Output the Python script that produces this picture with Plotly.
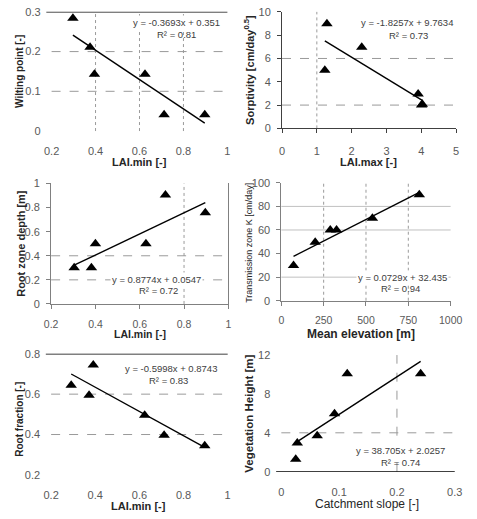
import plotly.graph_objects as go

# ---------------- data ----------------
# Panel a: Wilting point vs LAI.min
wp_lai = [0.297, 0.375, 0.395, 0.625, 0.712, 0.897]
wp_val = [0.284, 0.211, 0.143, 0.143, 0.041, 0.041]
wp_fit = (-0.3693, 0.351)
wp_eq = "y = -0.3693x + 0.351"
wp_r2 = "R² = 0.81"

# Panel b: Sorptivity vs LAI.max
so_lai = [1.29, 1.23, 2.29, 3.91, 4.03, 4.01]
so_val = [8.97, 5.0, 6.96, 2.96, 2.07, 2.0]
so_fit = (-1.8257, 9.7634)
so_eq = "y = -1.8257x + 9.7634"
so_r2 = "R² = 0.73"

# Panel c: Root zone depth vs LAI.min
rz_lai = [0.304, 0.382, 0.40, 0.628, 0.716, 0.896]
rz_val = [0.30, 0.30, 0.50, 0.50, 0.905, 0.757]
rz_fit = (0.8774, 0.0547)
rz_eq = "y = 0.8774x + 0.0547"
rz_r2 = "R² = 0.72"

# Panel d: Transmission zone K vs Mean elevation
tk_elev = [72, 200, 289, 326, 538, 815]
tk_val = [29.8, 49.7, 60, 60, 69.9, 89.8]
tk_fit = (0.0729, 32.435)
tk_eq = "y = 0.0729x + 32.435"
tk_r2 = "R² = 0.94"

# Panel e: Root fraction vs LAI.min
rf_lai = [0.291, 0.372, 0.391, 0.624, 0.712, 0.896]
rf_val = [0.644, 0.595, 0.744, 0.495, 0.397, 0.345]
rf_fit = (-0.5998, 0.8743)
rf_eq = "y = -0.5998x + 0.8743"
rf_r2 = "R² = 0.83"

# Panel f: Vegetation height vs Catchment slope
vh_slope = [0.0249, 0.0276, 0.062, 0.092, 0.114, 0.241]
vh_val = [1.28, 2.95, 3.69, 5.97, 10.07, 10.07]
vh_fit = (38.705, 2.0257)
vh_eq = "y = 38.705x + 2.0257"
vh_r2 = "R² = 0.74"

# tick labels
lai_ticks = ["0.2", "0.4", "0.6", "0.8", "1"]
wp_ticks = ["0", "0.1", "0.2", "0.3"]
laimax_ticks = ["0", "1", "2", "3", "4", "5"]
so_ticks = ["0", "2", "4", "6", "8", "10"]
rz_ticks = ["0", "0.2", "0.4", "0.6", "0.8", "1"]
elev_ticks = ["0", "250", "500", "750", "1000"]
tk_ticks = ["0", "20", "40", "60", "80", "100"]
rf_ticks = ["0.2", "0.4", "0.6", "0.8"]
slope_ticks = ["0", "0.1", "0.2", "0.3"]
vh_ticks = ["0", "4", "8", "12"]

# ---------------- layout helpers ----------------
W, H = 477, 519
FONT = "Liberation Sans, Arial, sans-serif"
TICKC = "#595959"
GRID = "#9a9a9a"


def fx(p):
    return p / W


def fy(p):
    return 1 - p / H


panels = [
    dict(x=wp_lai, y=wp_val, fit=wp_fit, eq=wp_eq, r2=wp_r2,
         xt=lai_ticks, yt=wp_ticks, box=(45.5, 229, 6, 128),
         xtitle="<b>LAI.min [-]</b>", ytitle="<b>Wilting point [-]</b>",
         xtpos=(137, 160), ytpos=(12, 67), tsize=(11, 10),
         eqpos=(176, 17, 176, 29), xfs=11, xso=12,
         vgrid=[0.4, 0.6, 0.8], hgrid=[0.1, 0.2], hdash="dash", vdash="dot",
         solid_h=[0.3], axlines=False),
    dict(x=so_lai, y=so_val, fit=so_fit, eq=so_eq, r2=so_r2,
         xt=laimax_ticks, yt=so_ticks, box=(286, 467.7, 6, 125.3),
         xtitle="<b>LAI.max [-]</b>", ytitle="<b>Sorptivity [cm/day<sup>0.5</sup>]</b>",
         xtpos=(376, 160), ytpos=(252, 65), tsize=(11, 11),
         eqpos=(416, 17, 418, 30), xfs=11, xso=8,
         vgrid=[1], hgrid=[2, 6], hdash="dash", vdash="dot",
         solid_h=[], axlines=True, linecolor="#404040"),
    dict(x=rz_lai, y=rz_val, fit=rz_fit, eq=rz_eq, r2=rz_r2,
         xt=lai_ticks, yt=rz_ticks, box=(45, 230, 181.7, 305),
         xtitle="<b>LAI.min [-]</b>", ytitle="<b>Root zone depth [m]</b>",
         xtpos=(138, 335.5), ytpos=(14, 243), tsize=(10.5, 11),
         eqpos=(155, 280, 157, 291), xfs=10.5, xso=6,
         vgrid=[0.8], hgrid=[0.2, 0.4], hdash="dash", vdash="dot",
         solid_h=[], axlines=True, linecolor="#808080", mirror_y=True),
    dict(x=tk_elev, y=tk_val, fit=tk_fit, eq=tk_eq, r2=tk_r2,
         xt=elev_ticks, yt=tk_ticks, box=(285.3, 462, 181, 301.7),
         xtitle="<b>Mean elevation [m]</b>", ytitle="Transmission zone K [cm/day]",
         xtpos=(368, 335.5), ytpos=(252, 242), tsize=(12, 9),
         eqpos=(412, 278, 410, 289), xfs=10.5, xso=6,
         vgrid=[250, 500, 750], hgrid=[20, 60, 80], hdash="solid", vdash="dot",
         hcolor="#c0c0c0",
         solid_h=[], axlines=True, linecolor="#808080"),
    dict(x=rf_lai, y=rf_val, fit=rf_fit, eq=rf_eq, r2=rf_r2,
         xt=lai_ticks, yt=rf_ticks, box=(45, 229.3, 356, 480),
         xtitle="<b>LAI.min [-]</b>", ytitle="<b>Root fraction [-]</b>",
         xtpos=(136, 512), ytpos=(12, 423), tsize=(11, 10),
         eqpos=(170, 371, 168, 383), xfs=11, xso=12,
         vgrid=[], hgrid=[0.4, 0.6], hdash="dash", vdash="dot",
         solid_h=[0.8], axlines=False),
    dict(x=vh_slope, y=vh_val, fit=vh_fit, eq=vh_eq, r2=vh_r2,
         xt=slope_ticks, yt=vh_ticks, box=(285.3, 466.3, 357.3, 476.7),
         xtitle="Catchment slope [-]", ytitle="<b>Vegetation Height [m]</b>",
         xtpos=(375, 510), ytpos=(252, 417), tsize=(12, 11.5),
         eqpos=(410, 455, 410, 467), xfs=11, xso=12,
         vgrid=[0.2], hgrid=[4], hdash="dash", vdash="dash",
         solid_h=[0], axlines=False),
]

fig = go.Figure()
shapes = []
annotations = []

for i, p in enumerate(panels, start=1):
    xa = "x" if i == 1 else f"x{i}"
    ya = "y" if i == 1 else f"y{i}"
    xt = [float(t) for t in p["xt"]]
    yt = [float(t) for t in p["yt"]]
    x0, x1, y0, y1 = p["box"]

    # gridlines (drawn below traces)
    for v in p["vgrid"]:
        shapes.append(dict(type="line", xref=xa, yref=f"{ya} domain", x0=v, x1=v,
                           y0=0, y1=1, layer="below",
                           line=dict(color=GRID, width=1, dash=p["vdash"])))
    for h in p["hgrid"]:
        shapes.append(dict(type="line", xref=f"{xa} domain", yref=ya, x0=0, x1=1,
                           y0=h, y1=h, layer="below",
                           line=dict(color=p.get("hcolor", GRID), width=1, dash=p["hdash"])))
    for h in p["solid_h"]:
        shapes.append(dict(type="line", xref=f"{xa} domain", yref=ya, x0=-0.03, x1=1,
                           y0=h, y1=h, layer="below",
                           line=dict(color="#000000", width=1.3)))

    # data
    fig.add_trace(go.Scatter(
        x=p["x"], y=p["y"], mode="markers", xaxis=xa, yaxis=ya,
        marker=dict(symbol="triangle-up", size=10, color="#000000"),
        cliponaxis=False, showlegend=False))
    # trend line from fit coefficients
    a, b = p["fit"]
    xs = [min(p["x"]), max(p["x"])]
    fig.add_trace(go.Scatter(
        x=xs, y=[a * v + b for v in xs], mode="lines", xaxis=xa, yaxis=ya,
        line=dict(color="#000000", width=1.4), showlegend=False, cliponaxis=False))

    axl = p["axlines"]
    lc = p.get("linecolor", "#808080")
    xaxis = dict(domain=[fx(x0), fx(x1)], range=[xt[0], xt[-1]], anchor=ya,
                 tickmode="array", tickvals=xt, ticktext=p["xt"],
                 showgrid=False, zeroline=False, showline=axl, linecolor=lc,
                 ticks="outside" if axl else "", ticklen=4, tickcolor=lc,
                 tickfont=dict(family=FONT, size=p["xfs"], color=TICKC),
                 ticklabelstandoff=p["xso"])
    yaxis = dict(domain=[fy(y1), fy(y0)], range=[yt[0], yt[-1]], anchor=xa,
                 tickmode="array", tickvals=yt, ticktext=p["yt"],
                 showgrid=False, zeroline=False, showline=axl, linecolor=lc,
                 mirror=p.get("mirror_y", False),
                 ticks="outside" if axl else "", ticklen=4, tickcolor=lc,
                 tickfont=dict(family=FONT, size=11, color=TICKC),
                 ticklabelstandoff=4 if axl else 10)
    fig.layout[f"xaxis{'' if i == 1 else i}"] = xaxis
    fig.layout[f"yaxis{'' if i == 1 else i}"] = yaxis

    # axis titles
    xs_, ys_ = p["tsize"]
    annotations.append(dict(text=p["xtitle"], xref="paper", yref="paper",
                            x=fx(p["xtpos"][0]), y=fy(p["xtpos"][1]),
                            showarrow=False, xanchor="center", yanchor="middle",
                            font=dict(family=FONT, size=xs_, color="#262626")))
    annotations.append(dict(text=p["ytitle"], xref="paper", yref="paper",
                            x=fx(p["ytpos"][0]), y=fy(p["ytpos"][1]), textangle=-90,
                            showarrow=False, xanchor="center", yanchor="middle",
                            font=dict(family=FONT, size=ys_, color="#262626")))
    # equation and R²
    ex, ey, rx, ry = p["eqpos"]
    annotations.append(dict(text=p["eq"], xref="paper", yref="paper",
                            x=fx(ex), y=fy(ey), showarrow=False,
                            xanchor="center", yanchor="middle",
                            bgcolor="#ffffff",
                            font=dict(family=FONT, size=9.5, color="#404040")))
    annotations.append(dict(text=p["r2"], xref="paper", yref="paper",
                            x=fx(rx), y=fy(ry), showarrow=False,
                            xanchor="center", yanchor="middle",
                            font=dict(family=FONT, size=9.5, color="#404040")))

fig.update_layout(width=W, height=H, margin=dict(l=0, r=0, t=0, b=0),
                  paper_bgcolor="#ffffff", plot_bgcolor="#ffffff",
                  shapes=shapes, annotations=annotations, showlegend=False)

fig.write_html("out.html")
